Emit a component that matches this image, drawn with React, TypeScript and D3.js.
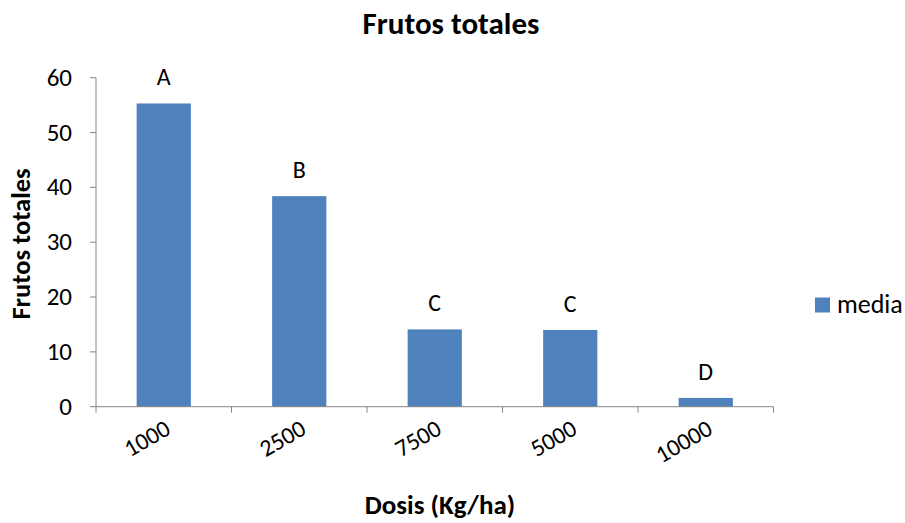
import React from "react";
import * as d3 from "d3";

const categories = ["1000", "2500", "7500", "5000", "10000"];
const values = [55.3, 38.4, 14.1, 14.0, 1.6];
const letters = ["A", "B", "C", "C", "D"];
const yTicks = [0, 10, 20, 30, 40, 50, 60];

const W = 905;
const H = 523;
const FONT = "Carlito, Calibri, Lato, 'Liberation Sans', sans-serif";

export default function App() {
  const left = 96;
  const right = 773.5;
  const top = 77.7;
  const bottom = 406.7;
  const x = d3.scaleBand<string>().domain(categories).range([left, right]).paddingInner(0.6).paddingOuter(0.3);
  const y = d3.scaleLinear().domain([0, 60]).range([bottom, top]);
  const axisColor = "#868686";
  const tickXs = d3.range(categories.length + 1).map((i) => left + i * ((right - left) / categories.length));

  return (
    <svg width={W} height={H} style={{ position: "absolute", left: 0, top: 0, background: "#fff" }} fontFamily={FONT}>
      <rect x={0} y={0} width={W} height={H} fill="#fff" />
      <text x={451} y={34} textAnchor="middle" fontSize={31} fontWeight="bold">Frutos totales</text>
      {/* bars */}
      {categories.map((c, i) => (
        <g key={c}>
          <rect x={x(c)!} y={y(values[i])} width={x.bandwidth()} height={bottom - y(values[i])} fill="#4F81BD" />
          <text x={x(c)! + x.bandwidth() / 2} y={y(values[i]) - 18} textAnchor="middle" fontSize={24}>{letters[i]}</text>
        </g>
      ))}
      {/* y axis */}
      <line x1={left} x2={left} y1={top} y2={bottom} stroke={axisColor} strokeWidth={1} />
      {yTicks.map((t) => (
        <g key={t}>
          <line x1={left - 6} x2={left} y1={y(t)} y2={y(t)} stroke={axisColor} />
          <text x={left - 24} y={y(t) + 8} textAnchor="end" fontSize={25}>{t}</text>
        </g>
      ))}
      {/* x axis */}
      <line x1={left} x2={right} y1={bottom} y2={bottom} stroke={axisColor} />
      {tickXs.map((tx, i) => (
        <line key={i} x1={tx} x2={tx} y1={bottom} y2={bottom + 6} stroke={axisColor} />
      ))}
      {categories.map((c) => {
        const cx = x(c)! + x.bandwidth() / 2;
        return (
          <text key={c} transform={`translate(${cx},${bottom + 12}) rotate(-30)`} textAnchor="end" fontSize={24} dy="0.7em">{c}</text>
        );
      })}
      <text x={440} y={514} textAnchor="middle" fontSize={27} fontWeight="bold">Dosis (Kg/ha)</text>
      <text transform={`translate(30,244) rotate(-90)`} textAnchor="middle" fontSize={26.5} fontWeight="bold">Frutos totales</text>
      {/* legend */}
      <rect x={815} y={297.5} width={15} height={15} fill="#4F81BD" />
      <text x={837} y={313} fontSize={26}>media</text>
    </svg>
  );
}
